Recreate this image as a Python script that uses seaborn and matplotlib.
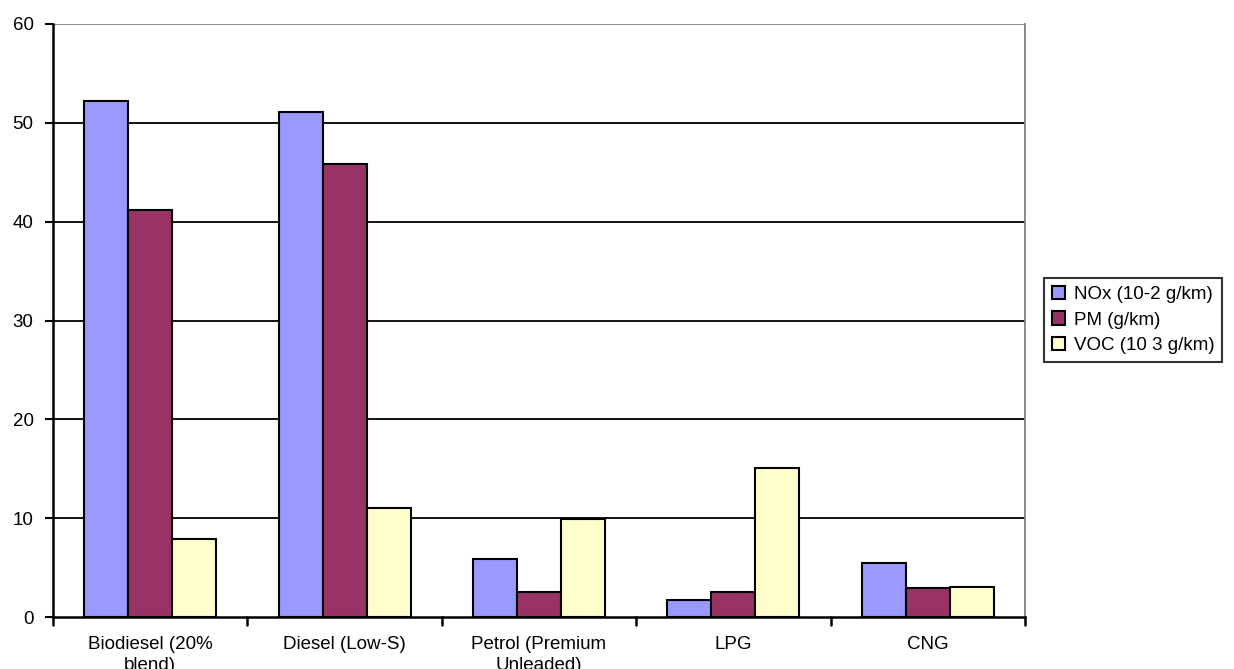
import matplotlib
matplotlib.use("Agg")
import matplotlib.pyplot as plt
import seaborn as sns
import pandas as pd

fuels = ["Biodiesel (20%\nblend)", "Diesel (Low-S)", "Petrol (Premium\nUnleaded)", "LPG", "CNG"]
series_names = ["NOx (10-2 g/km)", "PM (g/km)", "VOC (10 3 g/km)"]
nox = [52.2, 51.1, 5.9, 1.7, 5.5]
pm = [41.2, 45.8, 2.5, 2.5, 2.9]
voc = [7.9, 11.0, 9.9, 15.1, 3.0]
y_ticks = [0, 10, 20, 30, 40, 50, 60]
colors = ["#9999FF", "#993366", "#FFFFCC"]

df = pd.DataFrame({
    "fuel": fuels * 3,
    "series": [series_names[0]] * 5 + [series_names[1]] * 5 + [series_names[2]] * 5,
    "value": nox + pm + voc,
})

sns.set_style("white")
plt.rcParams["font.family"] = ["Liberation Sans", "DejaVu Sans"]
plt.rcParams["text.color"] = "black"
plt.rcParams["xtick.color"] = "black"
plt.rcParams["ytick.color"] = "black"

fig = plt.figure(figsize=(12.34, 6.69), dpi=100)
ax = fig.add_axes([53 / 1234, 52 / 669, 972 / 1234, 593 / 669])

sns.barplot(data=df, x="fuel", y="value", hue="series", order=fuels,
            hue_order=series_names, palette=colors, width=0.68,
            edgecolor="black", linewidth=1.5, saturation=1, ax=ax, legend=True)

ax.set_ylim(0, 60)
ax.set_xlim(-0.5, 4.5)
ax.set_yticks(y_ticks)
ax.set_yticklabels([str(t) for t in y_ticks], fontsize=13.5)
for t in y_ticks[1:-1]:
    ax.axhline(t, color="black", linewidth=1.3, zorder=0)
ax.axhline(60, color="#808080", linewidth=1.3, zorder=0)
ax.set_axisbelow(True)

ax.set_xlabel("")
ax.set_ylabel("")
ax.set_xticks(range(len(fuels)))
ax.set_xticklabels(fuels, fontsize=13.5, linespacing=1.3)
ax.tick_params(axis="x", length=0, pad=14)
ax.tick_params(axis="y", length=6, width=1.5, direction="out", left=True, pad=8)
# category separators along the baseline
for b in [-0.5, 0.5, 1.5, 2.5, 3.5, 4.5]:
    ax.plot([b, b], [0, -0.8], color="black", linewidth=1.8, clip_on=False)

for side in ["left", "bottom"]:
    ax.spines[side].set_color("black")
    ax.spines[side].set_linewidth(1.8)
ax.spines["right"].set_color("#808080")
ax.spines["right"].set_linewidth(1.3)
ax.spines["top"].set_visible(False)

handles, labels = ax.get_legend_handles_labels()
ax.get_legend().remove()
leg = fig.legend(handles, labels, loc="center left",
                 bbox_to_anchor=(1044 / 1234, (669 - 320) / 669),
                 frameon=True, fancybox=False, fontsize=13.5,
                 handlelength=0.7, handleheight=0.7, handletextpad=0.5,
                 labelspacing=0.45, borderpad=0.4, borderaxespad=0)
leg.get_frame().set_edgecolor("black")
leg.get_frame().set_linewidth(1.5)

fig.savefig("out.png", dpi=100)
